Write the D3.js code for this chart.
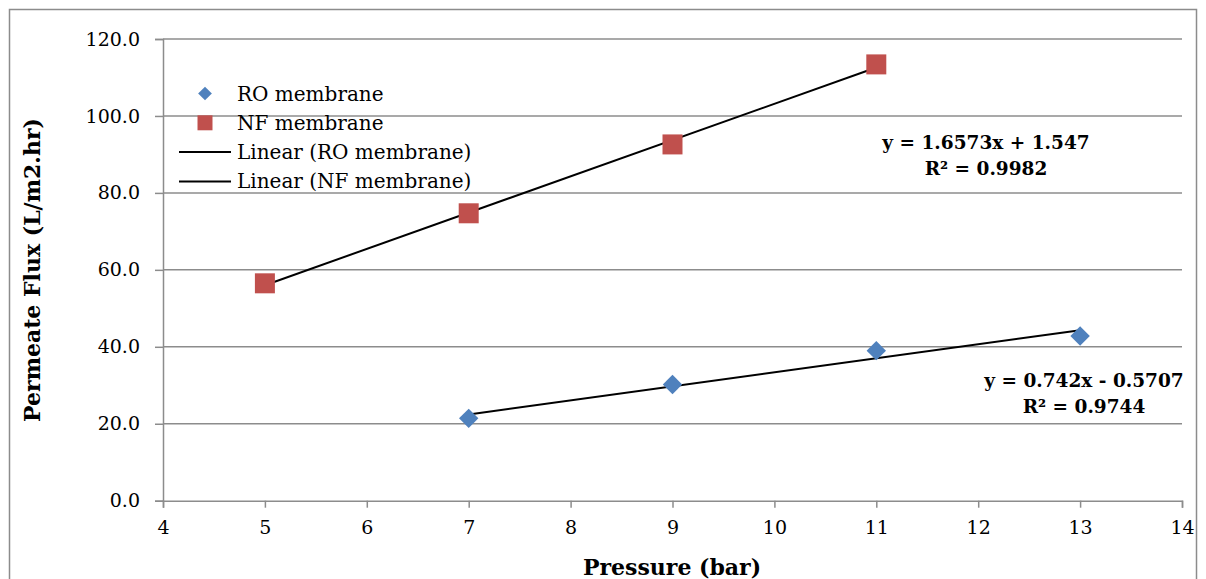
<!DOCTYPE html>
<html>
<head>
<meta charset="utf-8">
<script src="https://cdn.jsdelivr.net/npm/d3@7"></script>
<style>
  body { margin: 0; background: #fff; }
  text { font-family: "DejaVu Serif", serif; }
</style>
</head>
<body>
<script>
// data
var roPressure = [7, 9, 11, 13];
var roFlux = [21.4, 30.2, 39.0, 42.8];
var nfPressure = [5, 7, 9, 11];
var nfFlux = [56.5, 74.7, 92.6, 113.4];
var xTicks = [4, 5, 6, 7, 8, 9, 10, 11, 12, 13, 14];
var yTicks = [0, 20, 40, 60, 80, 100, 120];
var legendLabels = ["RO membrane", "NF membrane", "Linear (RO membrane)", "Linear (NF membrane)"];
var roEquation = ["y = 0.742x - 0.5707", "R² = 0.9744"];
var nfEquation = ["y = 1.6573x + 1.547", "R² = 0.9982"];

var W = 1206, H = 579;
var margin = {top: 39, right: 24, bottom: 78, left: 163};
var width = 1182 - margin.left,
    height = 500.7 - margin.top;

var svg = d3.select("body").append("svg")
    .attr("width", W)
    .attr("height", H);

// outer chart border
svg.append("rect")
    .attr("x", 9.5).attr("y", 9.5)
    .attr("width", 1187).attr("height", 600)
    .style("fill", "none")
    .style("stroke", "#8c8c8c")
    .style("stroke-width", 1.5);

var g = svg.append("g")
    .attr("transform", "translate(" + margin.left + "," + margin.top + ")");

var x = d3.scaleLinear().domain([4, 14]).range([0, width]);
var y = d3.scaleLinear().domain([0, 120]).range([height, 0]);

// gridlines
g.selectAll(".grid")
    .data(yTicks.slice(1))
    .enter().append("line")
    .attr("class", "grid")
    .attr("x1", 0).attr("x2", width)
    .attr("y1", function(d) { return y(d); })
    .attr("y2", function(d) { return y(d); })
    .style("stroke", "#8c8c8c")
    .style("stroke-width", 1.5);

var yAxis = g.append("g")
    .call(d3.axisLeft(y).tickValues(yTicks).tickSize(8).tickPadding(15)
        .tickFormat(d3.format(".1f")));
var xAxis = g.append("g")
    .attr("transform", "translate(0," + height + ")")
    .call(d3.axisBottom(x).tickValues(xTicks).tickSize(7).tickPadding(13));

[xAxis, yAxis].forEach(function(a) {
    a.select(".domain").style("stroke", "#8c8c8c").style("stroke-width", 1.5);
    a.selectAll(".tick line").style("stroke", "#8c8c8c").style("stroke-width", 1.5);
    a.selectAll("text")
        .style("font-family", "DejaVu Serif, serif")
        .style("font-size", "19px")
        .style("fill", "#000");
});

// least squares trendlines
function fit(xs, ys) {
    var mx = d3.mean(xs), my = d3.mean(ys);
    var sxy = d3.sum(xs, function(v, i) { return (v - mx) * (ys[i] - my); });
    var sxx = d3.sum(xs, function(v) { return (v - mx) * (v - mx); });
    var b = sxy / sxx;
    return function(v) { return my + b * (v - mx); };
}
var roFit = fit(roPressure, roFlux);
var nfFit = fit(nfPressure, nfFlux);

var line = d3.line()
    .x(function(d) { return x(d[0]); })
    .y(function(d) { return y(d[1]); });

g.append("path")
    .attr("d", line(d3.extent(roPressure).map(function(v) { return [v, roFit(v)]; })))
    .style("stroke", "#000").style("stroke-width", 2).style("fill", "none");
g.append("path")
    .attr("d", line(d3.extent(nfPressure).map(function(v) { return [v, nfFit(v)]; })))
    .style("stroke", "#000").style("stroke-width", 2).style("fill", "none");

var diamond = d3.symbol().type(d3.symbolDiamond2).size(240);
var square = d3.symbol().type(d3.symbolSquare).size(400);

g.selectAll(".ro")
    .data(roPressure)
    .enter().append("path")
    .attr("class", "ro")
    .attr("d", diamond)
    .attr("transform", function(d, i) {
        return "translate(" + x(d) + "," + y(roFlux[i]) + ")";
    })
    .style("fill", "#4f81bd");

g.selectAll(".nf")
    .data(nfPressure)
    .enter().append("path")
    .attr("class", "nf")
    .attr("d", square)
    .attr("transform", function(d, i) {
        return "translate(" + x(d) + "," + y(nfFlux[i]) + ")";
    })
    .style("fill", "#c0504d");

// legend
var legend = svg.selectAll(".legend")
    .data(legendLabels)
    .enter().append("g")
    .attr("class", "legend")
    .attr("transform", function(d, i) {
        return "translate(205," + (93.5 + i * 29.3) + ")";
    });

legend.each(function(d, i) {
    var el = d3.select(this);
    if (i == 0) {
        el.append("path").attr("d", d3.symbol().type(d3.symbolDiamond2).size(120)).style("fill", "#4f81bd");
    } else if (i == 1) {
        el.append("path").attr("d", d3.symbol().type(d3.symbolSquare).size(225)).style("fill", "#c0504d");
    } else {
        el.append("line").attr("x1", -26).attr("x2", 26)
            .style("stroke", "#000").style("stroke-width", 2);
    }
});

legend.append("text")
    .attr("x", 32)
    .attr("dy", "0.35em")
    .style("font-size", "20px")
    .text(function(d) { return d; });

// equations
function equation(lines, cx, by) {
    svg.append("g").selectAll("text")
        .data(lines)
        .enter().append("text")
        .attr("x", cx)
        .attr("y", function(d, i) { return by + i * 26; })
        .style("text-anchor", "middle")
        .style("font-weight", "bold")
        .style("font-size", "18.5px")
        .text(function(d) { return d; });
}
equation(nfEquation, 986, 149);
equation(roEquation, 1084, 387);

// axis titles
svg.append("text")
    .attr("x", 672).attr("y", 575)
    .style("text-anchor", "middle")
    .style("font-weight", "bold")
    .style("font-size", "22px")
    .text("Pressure (bar)");

svg.append("text")
    .attr("transform", "translate(40,270) rotate(-90)")
    .style("text-anchor", "middle")
    .style("font-weight", "bold")
    .style("font-size", "22px")
    .text("Permeate Flux (L/m2.hr)");
</script>
</body>
</html>
